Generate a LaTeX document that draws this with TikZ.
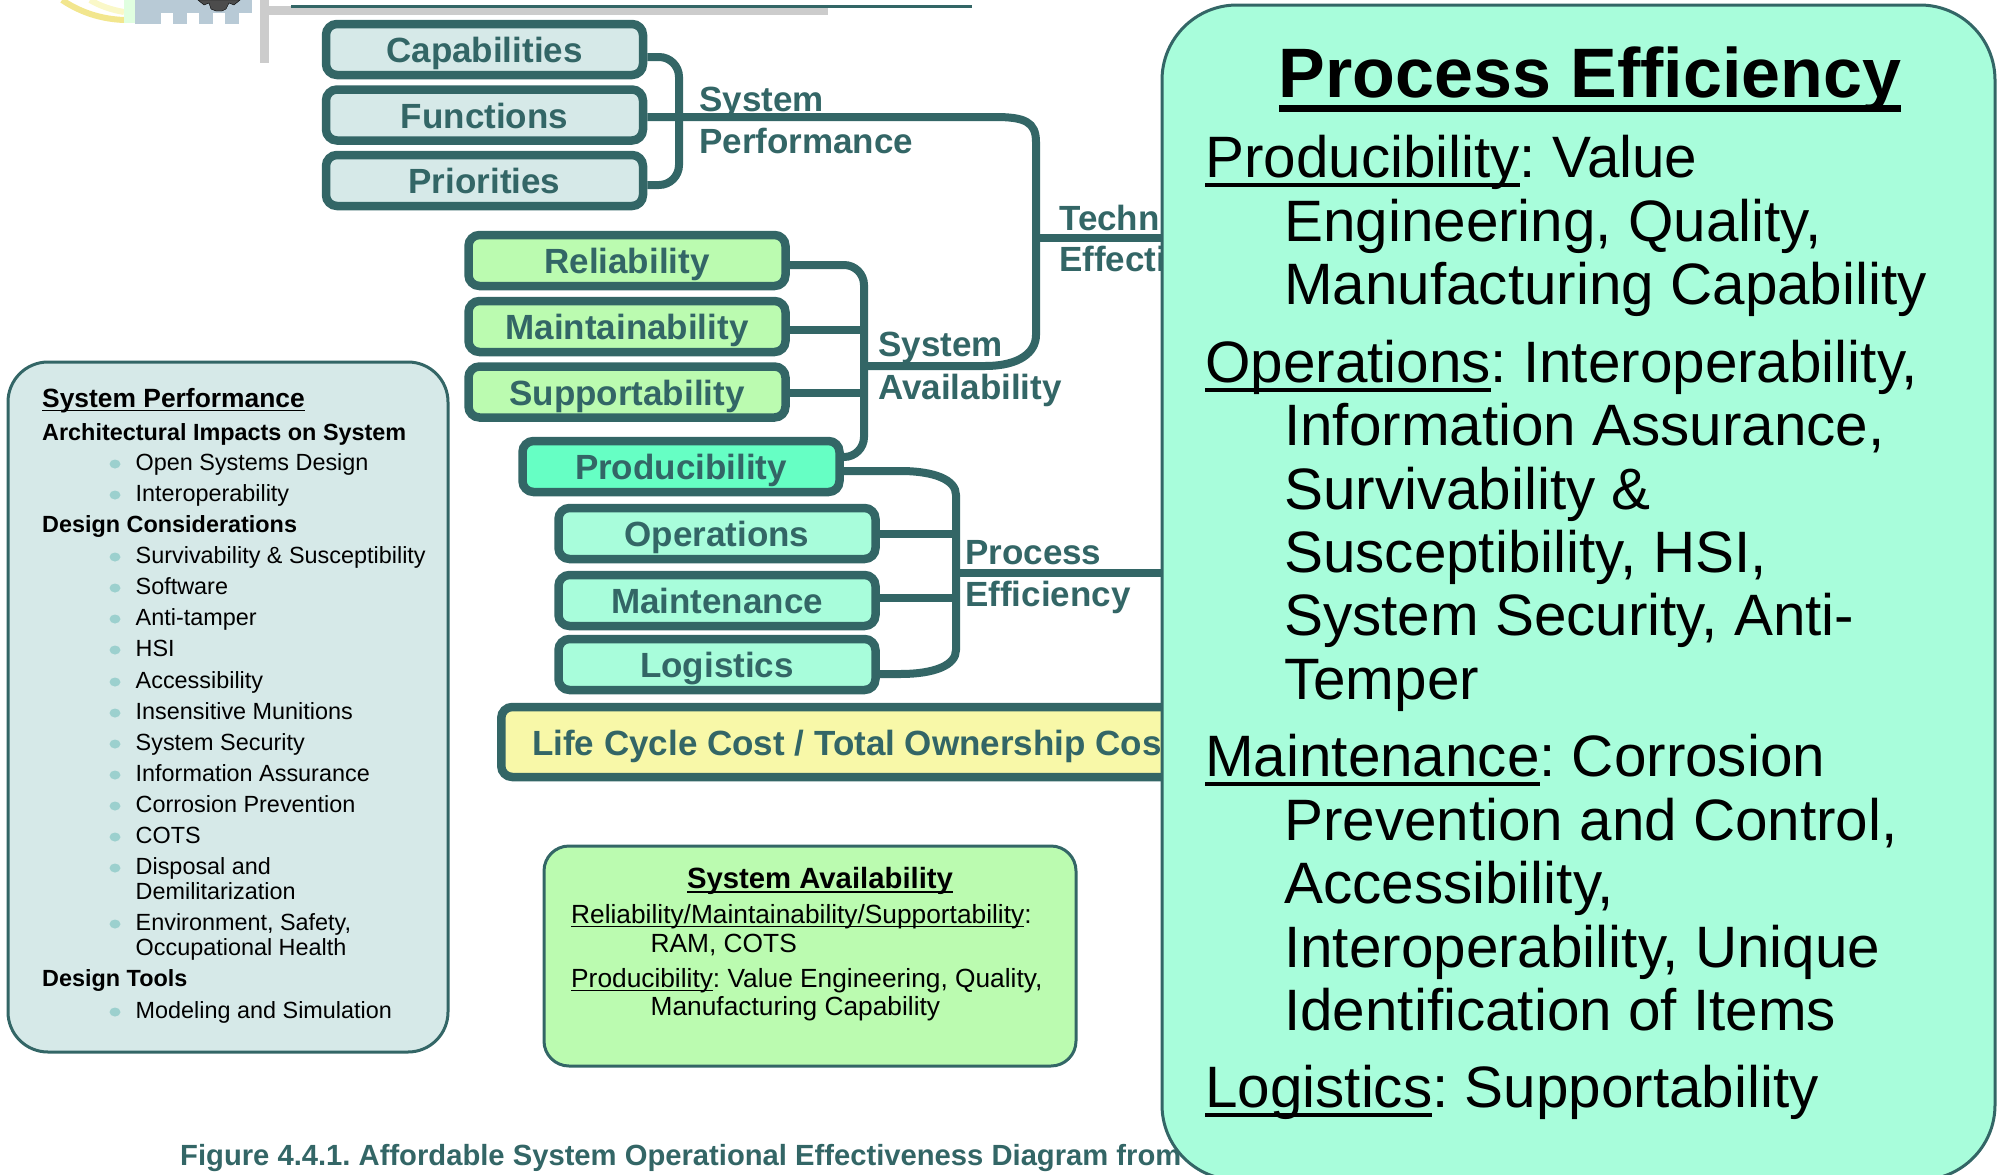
\documentclass[tikz,border=0pt]{standalone}
\usepackage{fontspec}
\setmainfont{Liberation Sans}
\usetikzlibrary{calc}
\frenchspacing

\definecolor{teal}{HTML}{336666}
\definecolor{paleblue}{HTML}{D6E9E8}
\definecolor{palegreen}{HTML}{BBFBB0}
\definecolor{midgreen}{HTML}{66FFC4}
\definecolor{palemint}{HTML}{A8FDDB}
\definecolor{paleyellow}{HTML}{F8F8A8}
\definecolor{bulletc}{HTML}{9CD0CE}
\definecolor{logoblue}{HTML}{B8CAD6}
\definecolor{logoyellow}{HTML}{F2E68E}
\definecolor{logopale}{HTML}{FAF8C8}

\newcommand{\fsz}[1]{\fontsize{#1}{#1}\selectfont}
\newcommand{\ul}[1]{\setbox0=\hbox{#1}\rlap{\rule[-0.17em]{\wd0}{0.07em}}\box0}
\newcommand{\ulb}[1]{\setbox0=\hbox{#1}\rlap{\rule[-0.22em]{\wd0}{0.11em}}\box0}

\tikzset{
  box/.style={draw=teal,line width=8.5pt,rounded corners=11pt,minimum width=317pt,
    minimum height=51pt,inner sep=0pt,text=teal,text height=26pt,text depth=0pt,
    font=\fsz{35}\bfseries},
  conn/.style={draw=teal,line width=8pt},
  lbl/.style={anchor=base west,inner sep=0pt,text=teal,font=\fsz{35}\bfseries},
  panel/.style={draw=teal,line width=3pt},
  sphead/.style={anchor=base west,inner sep=0pt,font=\fsz{23.4}\bfseries},
  spitem/.style={anchor=base west,inner sep=0pt,font=\fsz{23.4}},
  saline/.style={anchor=base west,inner sep=0pt,font=\fsz{26.3}},
  peline/.style={anchor=base west,inner sep=0pt,font=\fsz{58.4}}
}

\begin{document}
\begin{tikzpicture}[x=1pt,y=-1pt]
  \useasboundingbox (0,0) rectangle (1997,1175);
  \clip (0,0) rectangle (1997,1175);

  % logo and rules at the top
  \draw[line width=6pt,color=logopale] (90,0) .. controls (100,6) and (112,10) .. (124,12);
  \draw[line width=6pt,color=logoyellow] (62,0) .. controls (80,12) and (100,19) .. (124,20);
  \fill[color=green!12!white] (124,0) rectangle (135,23);
  \fill[color=logoblue] (135,0) rectangle (252,13);
  \fill[color=logoblue] (135,13) rectangle (161,24);
  \fill[color=logoblue] (173,13) rectangle (187,24);
  \fill[color=logoblue] (199,13) rectangle (213,24);
  \fill[color=logoblue] (225,13) rectangle (239,24);
  \fill[color=black!70,draw=black] (198,0) -- (204,5) -- (209,3) -- (211,9) -- (216,11) -- (222,11)
    -- (226,9) -- (229,3) -- (234,5) -- (240,0) -- cycle;
  \fill[color=black!20] (260,6) rectangle (828,15);
  \fill[color=black!20] (260,0) rectangle (269,63);
  \fill[color=teal] (291,5) rectangle (972,8);

  % system performance
  \node[box,fill=paleblue] (capabilities) at (484.5,49.5) {Capabilities};
  \node[box,fill=paleblue] (functions) at (484.5,115) {Functions};
  \node[box,fill=paleblue] (priorities) at (484.5,180.5) {Priorities};
  \coordinate (sptop) at (679,57);
  \coordinate (spbot) at (679,185);
  \draw[conn,rounded corners=20pt] (capabilities.east |- sptop) -- (sptop) -- (spbot)
    -- (priorities.east |- spbot);
  \coordinate (sabar) at (867,366);
  \draw[conn] (functions.east |- 0,117) -- (995,117)
    .. controls (1025,117) and (1036,122) .. (1036,142) -- (1036,335)
    .. controls (1036,352) and (1020,366) .. (985,366) -- (sabar);
  \node[lbl] (spone) at (699,111) {System};
  \node[lbl] (sptwo) at (699,153) {Performance};

  % system availability
  \node[box,fill=palegreen] (reliability) at (627,260.5) {Reliability};
  \node[box,fill=palegreen] (maintainability) at (627,326.5) {Maintainability};
  \node[box,fill=palegreen] (supportability) at (627,392) {Supportability};
  \node[box,fill=midgreen] (producibility) at (681,466.5) {Producibility};
  \coordinate (satop) at (864,265);
  \coordinate (sabot) at (864,457);
  \draw[conn,rounded corners=20pt] (reliability.east |- satop) -- (satop) -- (sabot)
    -- (producibility.east |- sabot);
  \draw[conn] (maintainability.east |- 0,330) -- (864,330);
  \draw[conn] (supportability.east |- 0,393) -- (864,393);
  \node[lbl] (saone) at (878,356) {System};
  \node[lbl] (satwo) at (878,399) {Availability};

  % process efficiency
  \node[box,fill=palemint] (operations) at (717,533.5) {Operations};
  \node[box,fill=palemint] (maintenance) at (717,600.5) {Maintenance};
  \node[box,fill=palemint] (logistics) at (717,664.5) {Logistics};
  \draw[conn] (producibility.east |- 0,471) -- (900,471)
    .. controls (935,471) and (956,480) .. (956,495) -- (956,650)
    .. controls (956,665) and (935,674) .. (900,674) -- (logistics.east |- 0,674);
  \draw[conn] (operations.east |- 0,534) -- (956,534);
  \draw[conn] (maintenance.east |- 0,598) -- (956,598);
  \coordinate (peright) at (1162,573);
  \draw[conn] (956,573) -- (peright);
  \node[lbl] (peone) at (965,564) {Process};
  \node[lbl] (petwo) at (965,606) {Efficiency};

  % technical effectiveness
  \draw[conn] (1036,238) -- (1162,238);
  \node[lbl] (teone) at (1059,230) {Technical};
  \node[lbl] (tetwo) at (1059,271) {Effectiveness};

  % cost
  \node[box,fill=paleyellow,anchor=west,minimum width=760pt,minimum height=70pt] (cost) at (497,742) {};
  \node[lbl] (costtext) at (532,755) {Life Cycle Cost / Total Ownership Cost};

  % left panel
  \draw[panel,fill=paleblue,rounded corners=40pt] (8,362) rectangle (448,1052);
  \node[sphead,font=\fsz{26.4}\bfseries] (sptitle) at (42,407) {\ul{System Performance}};
  \node[sphead] (sparch) at (42,440) {Architectural Impacts on System};
  \node[sphead] (spdesign) at (42,532) {Design Considerations};
  \node[sphead] (sptools) at (42,986) {Design Tools};
  \foreach \nm/\yy/\txt in {
    a/470/Open Systems Design,
    b/501/Interoperability,
    c/563/Survivability \& Susceptibility,
    d/594/Software,
    e/625/Anti-tamper,
    f/656/HSI,
    g/688/Accessibility,
    h/719/Insensitive Munitions,
    i/750/System Security,
    j/781/Information Assurance,
    k/812/Corrosion Prevention,
    l/843/COTS,
    m/874/Disposal and,
    n/930/{Environment, Safety,},
    o/1018/Modeling and Simulation}
  {
    \node[spitem] (item\nm) at (135.5,\yy) {\txt};
    \fill[color=bulletc] (115,\yy-6) ellipse (5.5 and 4.5);
  }
  \node[spitem] (itemdemil) at (135.5,899) {Demilitarization};
  \node[spitem] (itemocc) at (135.5,955) {Occupational Health};

  % middle panel
  \draw[panel,fill=palegreen,rounded corners=25pt] (544,846) rectangle (1076,1066);
  \node[anchor=base,inner sep=0pt,font=\fsz{29.3}\bfseries] (satitle) at (820,888) {\ul{System Availability}};
  \node[saline] (saa) at (571,923) {\ul{Reliability/Maintainability/Supportability}:};
  \node[saline] (sab) at (650.5,952) {RAM, COTS};
  \node[saline] (sac) at (571,987) {\ul{Producibility}: Value Engineering, Quality,};
  \node[saline] (sad) at (650.5,1015) {Manufacturing Capability};

  % right panel
  \draw[panel,fill=palemint,rounded corners=75pt] (1162,5) rectangle (1995,1180);
  \node[anchor=base,inner sep=0pt,font=\fsz{70}\bfseries] (petitle) at (1590,97) {\ulb{Process Efficiency}};
  \foreach \nm/\xx/\yy/\txt in {
    a/1205/177/{\ul{Producibility}: Value},
    b/1284/241/{Engineering, Quality,},
    c/1284/304/{Manufacturing Capability},
    d/1205/382/{\ul{Operations}: Interoperability,},
    e/1284/445/{Information Assurance,},
    f/1284/509/{Survivability \&},
    g/1284/572/{Susceptibility, HSI,},
    h/1284/635/{System Security, Anti-},
    i/1284/699/{Temper},
    j/1205/776/{\ul{Maintenance}: Corrosion},
    k/1284/840/{Prevention and Control,},
    l/1284/903/{Accessibility,},
    m/1284/967/{Interoperability, Unique},
    n/1284/1030/{Identification of Items},
    o/1205/1107/{\ul{Logistics}: Supportability}}
  {
    \node[peline] (peline\nm) at (\xx,\yy) {\txt};
  }

  % caption, cut off by the right panel
  \node[anchor=base west,inner sep=0pt,text=teal,font=\fsz{29.2}\bfseries] (caption) at (180,1165)
    {Figure 4.4.1. Affordable System Operational Effectiveness Diagram from};
\end{tikzpicture}
\end{document}
